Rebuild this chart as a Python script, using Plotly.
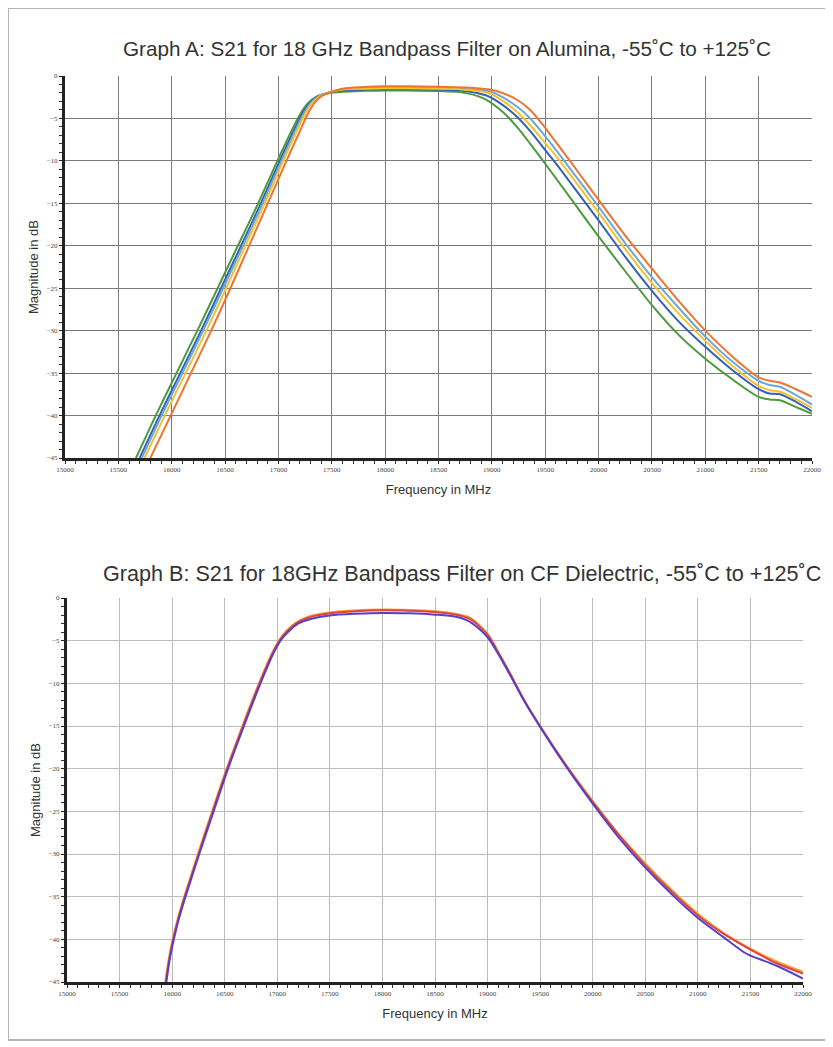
import plotly.graph_objects as go

# ---------------- Graph A data (Alumina) ----------------
a_green_f = [15665,15850,16045,16240,16430,16620,16810,16990,17110,17190,17270,17360,17455,17600,17800,18000,18200,18500,18700,18917,19100,19235,19360,19480,19732,20000,20250,20500,20750,21000,21250,21500,21600,21700,21850,22000]
a_green_db = [-45,-40,-35,-30,-25,-20,-15,-10,-6.8,-4.8,-3.3,-2.4,-2.05,-1.85,-1.75,-1.7,-1.72,-1.78,-1.9,-2.6,-4.2,-6.0,-8.0,-10,-14.3,-18.9,-23,-27,-30.5,-33.3,-35.7,-37.8,-38.1,-38.2,-39.0,-39.8]

a_blue_f = [15700,15885,16080,16275,16462,16650,16835,17012,17130,17208,17285,17370,17460,17600,17800,18000,18200,18500,18700,18950,19100,19235,19360,19480,19600,19732,20000,20250,20500,20750,21000,21250,21500,21600,21700,21850,22000]
a_blue_db = [-45,-40,-35,-30,-25,-20,-15,-10,-6.8,-4.8,-3.3,-2.4,-2.0,-1.7,-1.6,-1.55,-1.55,-1.6,-1.7,-2.3,-3.4,-4.8,-6.5,-8.4,-10.3,-12.5,-17.0,-21.3,-25.3,-28.9,-31.9,-34.6,-36.9,-37.4,-37.5,-38.4,-39.5]

a_lblue_f = [15720,15905,16100,16295,16482,16668,16852,17028,17145,17222,17296,17378,17462,17600,17800,18000,18200,18500,18700,18980,19100,19235,19360,19480,19600,19732,20000,20250,20500,20750,21000,21250,21500,21600,21700,21850,22000]
a_lblue_db = [-45,-40,-35,-30,-25,-20,-15,-10,-6.8,-4.8,-3.3,-2.4,-2.0,-1.55,-1.45,-1.4,-1.4,-1.45,-1.5,-1.8,-2.5,-3.6,-5.0,-6.8,-8.7,-10.9,-15.4,-19.7,-23.7,-27.3,-30.7,-33.6,-35.9,-36.4,-36.6,-37.6,-38.7]

a_yellow_f = [15745,15935,16130,16325,16510,16690,16872,17045,17160,17236,17308,17386,17464,17600,17800,18000,18200,18500,18700,18970,19100,19235,19360,19480,19600,19732,20000,20250,20500,20750,21000,21250,21500,21600,21700,21850,22000]
a_yellow_db = [-45,-40,-35,-30,-25,-20,-15,-10,-6.8,-4.8,-3.3,-2.4,-2.0,-1.6,-1.5,-1.45,-1.45,-1.5,-1.55,-2.0,-2.9,-4.2,-5.8,-7.6,-9.4,-11.6,-16.1,-20.4,-24.4,-28.0,-31.2,-34.1,-36.5,-37.0,-37.2,-38.1,-39.1]

a_orange_f = [15800,15990,16180,16370,16550,16725,16900,17075,17190,17262,17330,17400,17468,17600,17800,18000,18200,18500,18800,18983,19100,19235,19360,19480,19600,19732,20000,20250,20500,20750,21000,21250,21500,21600,21700,21850,22000]
a_orange_db = [-45,-40,-35,-30,-25,-20,-15,-10,-6.8,-4.8,-3.3,-2.4,-2.0,-1.5,-1.3,-1.2,-1.22,-1.28,-1.38,-1.6,-2.0,-2.8,-4.0,-5.8,-7.8,-10,-14.6,-18.8,-22.7,-26.5,-30,-33,-35.5,-35.9,-36.1,-36.9,-37.8]

# ---------------- Graph B data (CF Dielectric) ----------------
b_orange_f = [15935,15965,16005,16055,16115,16245,16380,16518,16668,16825,16900,16960,17020,17090,17180,17300,17500,17750,18000,18250,18500,18700,18833,19000,19118,19213,19350,19500,19750,20000,20250,20500,20750,21000,21250,21500,21750,22000]
b_orange_db = [-45,-42.5,-40,-37.5,-35,-30,-25,-20,-15,-10,-7.8,-6.2,-4.9,-3.8,-2.85,-2.15,-1.7,-1.45,-1.35,-1.4,-1.55,-1.85,-2.3,-4.2,-6.7,-8.8,-12,-15,-19.6,-23.8,-27.7,-31.1,-34.2,-37,-39.3,-41.1,-42.6,-43.8]

b_red_f = [15940,15970,16010,16060,16120,16251,16386,16524,16674,16831,16906,16966,17026,17096,17187,17308,17500,17750,18000,18250,18500,18700,18833,19000,19118,19213,19350,19500,19750,20000,20250,20500,20750,21000,21250,21400,21500,21750,22000]
b_red_db = [-45,-42.5,-40,-37.5,-35,-30,-25,-20,-15,-10,-7.8,-6.2,-4.9,-3.85,-2.9,-2.25,-1.8,-1.55,-1.45,-1.5,-1.65,-1.95,-2.45,-4.3,-6.75,-8.85,-12.05,-15.05,-19.7,-23.9,-27.8,-31.3,-34.4,-37.2,-39.4,-40.5,-41.2,-42.8,-44.0]

b_purple_f = [15945,15975,16016,16066,16127,16258,16394,16532,16683,16840,16915,16975,17035,17105,17197,17320,17500,17750,18000,18250,18500,18700,18833,19000,19118,19213,19350,19500,19750,20000,20250,20500,20750,21000,21250,21450,21500,21750,22000]
b_purple_db = [-45,-42.5,-40,-37.5,-35,-30,-25,-20,-15,-10,-7.8,-6.2,-4.9,-3.95,-3.0,-2.45,-2.05,-1.85,-1.75,-1.8,-1.95,-2.2,-2.8,-4.6,-6.9,-9.0,-12.1,-15.1,-19.8,-24.1,-28.1,-31.6,-34.7,-37.5,-39.8,-41.6,-41.9,-43.1,-44.6]

x_ticks = [15000,15500,16000,16500,17000,17500,18000,18500,19000,19500,20000,20500,21000,21500,22000]
y_ticks = [0,-5,-10,-15,-20,-25,-30,-35,-40,-45]

title_a = "Graph A: S21 for 18 GHz Bandpass Filter on Alumina, -55˚C to +125˚C"
title_b = "Graph B: S21 for 18GHz Bandpass Filter on CF Dielectric, -55˚C to +125˚C"

fig = go.Figure()

series_a = [
    ("-55˚C", a_green_f, a_green_db, "#4c9a3a"),
    ("-20˚C", a_blue_f, a_blue_db, "#3461b8"),
    ("+25˚C", a_lblue_f, a_lblue_db, "#6aa8dc"),
    ("+85˚C", a_yellow_f, a_yellow_db, "#f2c232"),
    ("+125˚C", a_orange_f, a_orange_db, "#ee7431"),
]
for name, f, d, c in series_a:
    fig.add_trace(go.Scatter(x=f, y=d, name=name, mode="lines",
                             line=dict(color=c, width=2, shape="spline", smoothing=0.8),
                             xaxis="x", yaxis="y", showlegend=False))

series_b = [
    ("+125˚C", b_orange_f, b_orange_db, "#f4a23c"),
    ("+25˚C", b_red_f, b_red_db, "#e0443c"),
    ("-55˚C", b_purple_f, b_purple_db, "#5a3ec4"),
]
for name, f, d, c in series_b:
    fig.add_trace(go.Scatter(x=f, y=d, name=name, mode="lines",
                             line=dict(color=c, width=2, shape="spline", smoothing=0.8),
                             xaxis="x2", yaxis="y2", showlegend=False))

# page body has an 8px margin; the figure is placed at (8, 8) in the window
OFF = 8
W, H = 833 - OFF, 1047 - OFF

def px(x):
    return (x - OFF) / W

def py(y):
    return 1 - (y - OFF) / H

tickfont = dict(family="Liberation Serif", size=7, color="#444")

def xax(domain, anchor, gridcolor):
    return dict(domain=domain, anchor=anchor, range=[15000, 22000], tickvals=x_ticks,
                tickformat="d", tickfont=tickfont, showgrid=True, gridcolor=gridcolor,
                gridwidth=1, zeroline=False, showline=True, linecolor="#222", linewidth=3,
                ticks="outside", ticklen=3, tickcolor="#222", automargin=False,
                minor=dict(dtick=100, ticks="outside", ticklen=3, tickcolor="#333", showgrid=False),
                title=dict(text="Frequency in MHz", font=dict(family="Liberation Sans", size=13, color="#333"), standoff=12))

def yax(domain, anchor, gridcolor):
    return dict(domain=domain, anchor=anchor, range=[-45, 0], tickvals=y_ticks,
                tickformat="d", tickfont=tickfont, showgrid=True, gridcolor=gridcolor,
                gridwidth=1, zeroline=False, showline=True, linecolor="#222", linewidth=3,
                ticks="outside", ticklen=3, tickcolor="#222", automargin=False,
                minor=dict(dtick=1, ticks="outside", ticklen=3, tickcolor="#333", showgrid=False),
                title=dict(text="Magnitude in dB", font=dict(family="Liberation Sans", size=13, color="#333"), standoff=6))

fig.update_layout(
    width=W, height=H,
    margin=dict(l=0, r=0, t=0, b=0, autoexpand=False),
    paper_bgcolor="white", plot_bgcolor="white",
    xaxis=xax([px(65), px(812)], "y", "#7a7a7a"),
    yaxis=yax([py(458), py(76)], "x", "#7a7a7a"),
    xaxis2=xax([px(67), px(803)], "y2", "#bdbdbd"),
    yaxis2=yax([py(982), py(598)], "x2", "#bdbdbd"),
    annotations=[
        dict(text=title_a, x=px(447), y=py(49), xref="paper", yref="paper",
             xanchor="center", yanchor="middle",
             showarrow=False, font=dict(family="Liberation Sans", size=20.7, color="#333")),
        dict(text=title_b, x=px(462), y=py(573), xref="paper", yref="paper",
             xanchor="center", yanchor="middle",
             showarrow=False, font=dict(family="Liberation Sans", size=21.6, color="#333")),
    ],
    shapes=[
        dict(type="rect", xref="paper", yref="paper", x0=px(8), x1=px(828), y0=py(1040), y1=py(8),
             line=dict(color="#b5b5b5", width=2)),
    ],
)

fig.write_html("out.html")
